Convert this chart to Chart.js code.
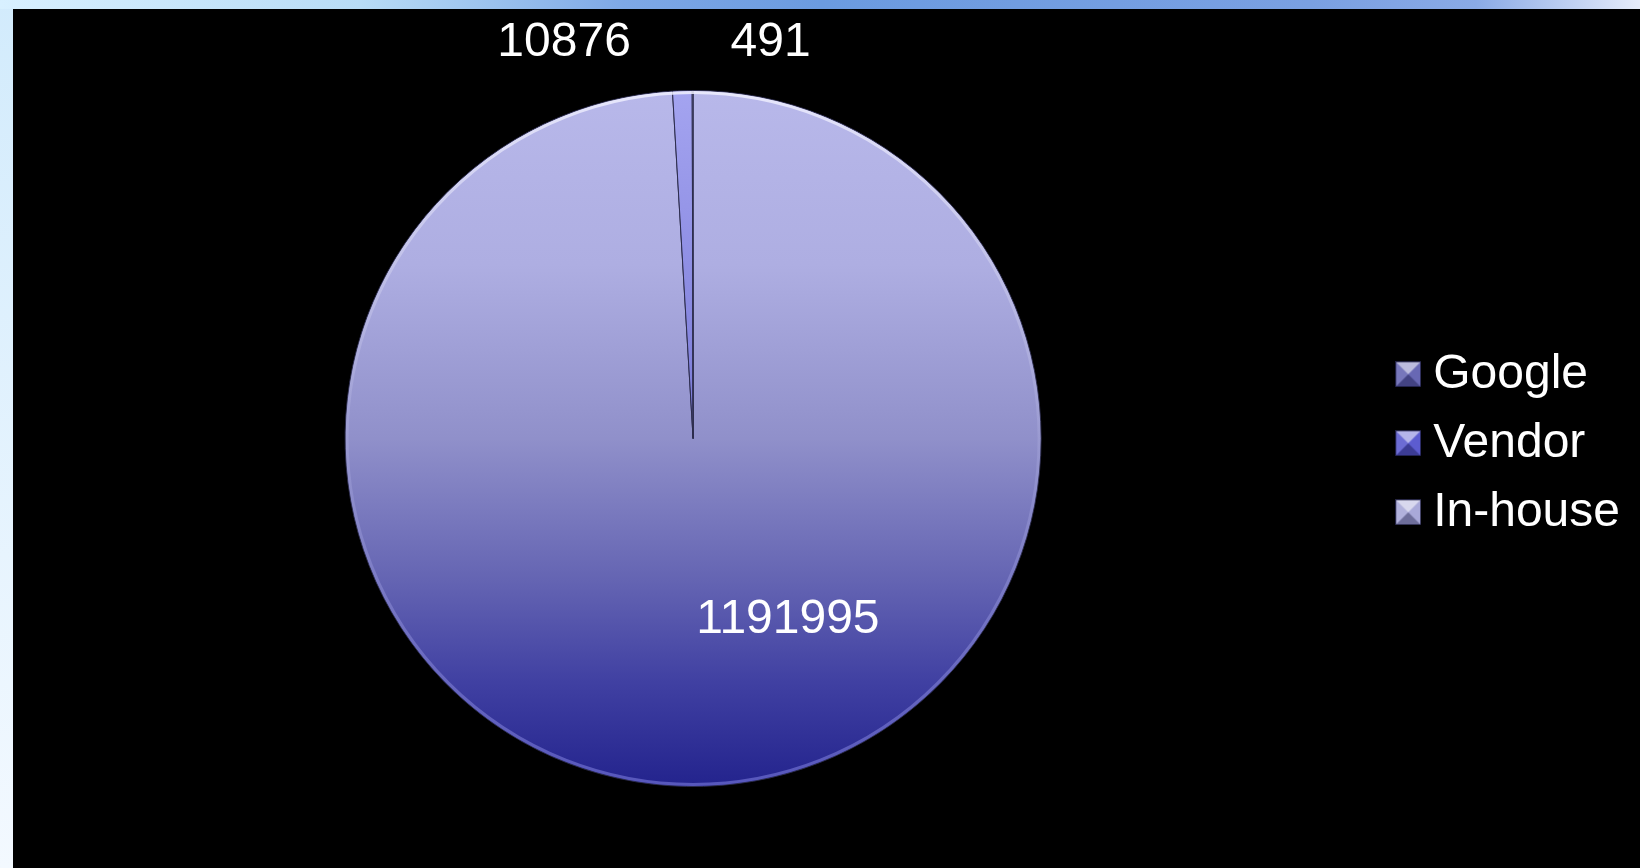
<!DOCTYPE html>
<html>
<head>
<meta charset="utf-8">
<script src="https://cdn.jsdelivr.net/npm/chart.js@4"></script>
<style>
  html, body { margin: 0; padding: 0; width: 1640px; height: 868px; overflow: hidden; }
  body { background: linear-gradient(to bottom, #d2ebfc, #f3f9ff); position: relative; }
  #topbar { position: absolute; left: 0; top: 0; width: 1640px; height: 9px;
    background: linear-gradient(to right, #d8f0ff 0%, #b8dcf6 22%, #7ea8e6 38%, #6b9be0 50%, #7aa0e2 80%, #8aaae6 90%, #e6ecfa 100%); }
  #black { position: absolute; left: 13px; top: 9px; width: 1627px; height: 859px; background: #000; }
  #pieChart { position: absolute; left: 0; top: 0; }
</style>
</head>
<body>
<div id="topbar"></div>
<div id="black"></div>
<canvas id="pieChart" width="1640" height="868"></canvas>
<script>
// slices in drawing order (clockwise from 12 o'clock); legend is shown reversed
const categories = ['In-house', 'Vendor', 'Google'];
const values = [1191995, 10876, 491];
const swatchColors = ['#a9a9d9', '#5c5cd0', '#6868b4'];

const FONT = '"Liberation Sans", Arial, sans-serif';

function pieGradient(context) {
  const chart = context.chart;
  const area = chart.chartArea;
  if (!area) return '#8f8fc9';
  const g = chart.ctx.createLinearGradient(0, area.top, 0, area.bottom);
  if (context.dataIndex === 1) {
    g.addColorStop(0, '#a4a4f0');
    g.addColorStop(1, '#5050c0');
    return g;
  }
  g.addColorStop(0, '#b8b8ea');
  g.addColorStop(0.25, '#aeaee2');
  g.addColorStop(0.5, '#9090ca');
  g.addColorStop(0.7, '#6565b3');
  g.addColorStop(0.85, '#4040a2');
  g.addColorStop(1, '#23238d');
  return g;
}

// bevelled square used as legend marker
function makeSwatch(color) {
  const s = 26;
  const c = document.createElement('canvas');
  c.width = s; c.height = s;
  const x = c.getContext('2d');
  x.fillStyle = color;
  x.fillRect(0, 0, s, s);
  const facet = (pts, fill) => {
    x.beginPath();
    x.moveTo(pts[0][0], pts[0][1]);
    pts.slice(1).forEach(p => x.lineTo(p[0], p[1]));
    x.closePath();
    x.fillStyle = fill;
    x.fill();
  };
  const m = s / 2;
  facet([[0, 0], [s, 0], [m, m]], 'rgba(255,255,255,0.55)');
  facet([[0, s], [s, s], [m, m]], 'rgba(0,0,40,0.35)');
  facet([[0, 0], [0, s], [m, m]], 'rgba(255,255,255,0.1)');
  x.strokeStyle = 'rgba(20,20,50,0.9)';
  x.lineWidth = 1;
  x.strokeRect(0.5, 0.5, s - 1, s - 1);
  return c;
}
const swatches = swatchColors.map(makeSwatch);

// soft highlight on the pie rim
const rim = {
  id: 'rim',
  afterDatasetsDraw(chart) {
    const arc = chart.getDatasetMeta(0).data[0];
    if (!arc) return;
    const ctx = chart.ctx;
    const g = ctx.createLinearGradient(0, arc.y - arc.outerRadius, 0, arc.y + arc.outerRadius);
    g.addColorStop(0, 'rgba(240,240,255,0.85)');
    g.addColorStop(0.5, 'rgba(170,170,220,0.4)');
    g.addColorStop(1, 'rgba(100,100,200,0.8)');
    ctx.save();
    ctx.strokeStyle = g;
    ctx.lineWidth = 3;
    ctx.beginPath();
    ctx.arc(arc.x, arc.y, arc.outerRadius - 2, 0, Math.PI * 2);
    ctx.stroke();
    ctx.restore();
  }
};

// value labels: small slices go above the pie, big slice inside
const valueLabels = {
  id: 'valueLabels',
  afterDatasetsDraw(chart) {
    const ctx = chart.ctx;
    const meta = chart.getDatasetMeta(0);
    const total = values.reduce((a, b) => a + b, 0);
    ctx.save();
    ctx.fillStyle = '#ffffff';
    ctx.font = '48px ' + FONT;
    ctx.textBaseline = 'middle';
    meta.data.forEach((arc, i) => {
      const v = values[i];
      if (v / total > 0.05) {
        const p = arc.tooltipPosition();
        ctx.textAlign = 'left';
        ctx.fillText(String(v), p.x - 2, p.y + 7);
      } else {
        const mid = (arc.startAngle + arc.endAngle) / 2;
        const r = arc.outerRadius + 48;
        const x = arc.x + Math.cos(mid) * r;
        const y = arc.y + Math.sin(mid) * r;
        if (i === 1) {
          ctx.textAlign = 'right';
          ctx.fillText(String(v), x - 50, y);
        } else {
          ctx.textAlign = 'left';
          ctx.fillText(String(v), x + 38, y);
        }
      }
    });
    ctx.restore();
  }
};

new Chart(document.getElementById('pieChart'), {
  type: 'pie',
  data: {
    labels: categories,
    datasets: [{
      data: values,
      backgroundColor: pieGradient,
      borderColor: '#2c2c4c',
      borderWidth: 1,
      hoverOffset: 0
    }]
  },
  options: {
    responsive: false,
    animation: false,
    layout: { padding: { top: 90, bottom: 81, left: 0, right: 10 } },
    plugins: {
      tooltip: { enabled: false },
      legend: {
        position: 'right',
        reverse: true,
        title: { display: true, text: '', font: { size: 8 }, padding: 0 },
        labels: {
          color: '#ffffff',
          font: { family: FONT, size: 48 },
          usePointStyle: true,
          pointStyleWidth: 2,
          boxHeight: 26,
          padding: 21,
          generateLabels(chart) {
            return categories.map((c, i) => ({
              text: c,
              fillStyle: swatchColors[i],
              strokeStyle: '#1a1a30',
              lineWidth: 0,
              pointStyle: swatches[i],
              fontColor: '#ffffff',
              hidden: false,
              index: i
            }));
          }
        }
      }
    }
  },
  plugins: [rim, valueLabels]
});
</script>
</body>
</html>
